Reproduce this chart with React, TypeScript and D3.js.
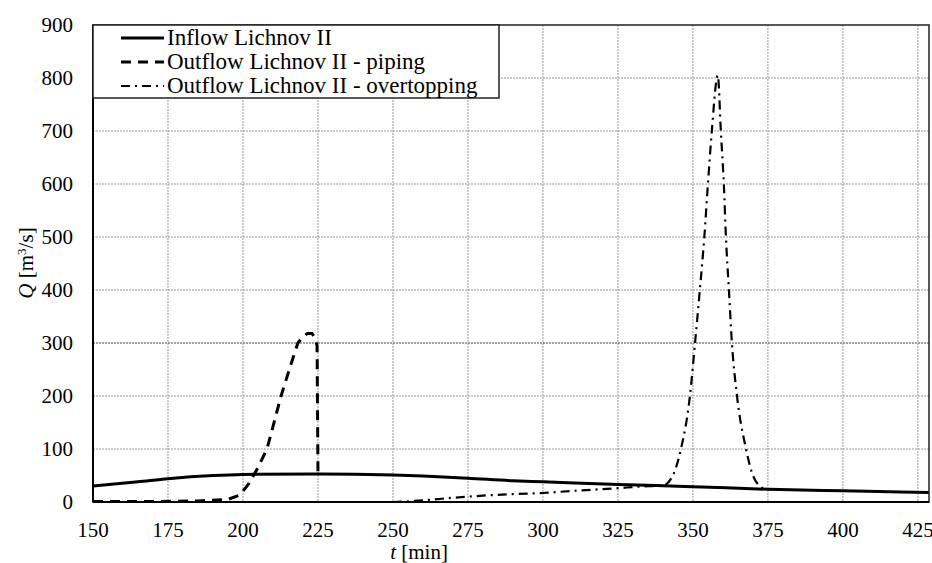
import { useEffect, useRef } from 'react';
import * as d3 from 'd3';

// inflow hydrograph
const inflowT = [150, 165, 175, 190, 200, 225, 250, 260, 275, 290, 300, 325, 350, 375, 400, 428.7];
const inflowQ = [30, 38, 44, 50, 52, 53, 51, 49, 45, 40, 38, 33, 29, 24, 21, 18];

// outflow - piping breach
const pipingT = [150, 170, 185, 195, 199, 202, 205, 208, 212.7, 216, 218.3, 220, 221.5, 223, 224, 224.7, 225];
const pipingQ = [1, 1, 2, 5, 13, 35, 65, 100, 200, 260, 300, 312, 318, 318, 310, 295, 55];

// outflow - overtopping breach
const overT = [250, 257, 262, 270, 280, 290, 300, 310, 325, 332, 340, 343.3, 346, 349, 350.7, 352.3, 353.8, 355, 356.3, 358.3, 359.3, 360.3, 361, 362, 363, 364.7, 367.7, 370, 373.5];
const overQ = [0, 2, 4, 8, 12, 15, 17, 21, 26, 29, 31, 50, 100, 200, 300, 400, 500, 600, 700, 805, 700, 600, 500, 400, 300, 200, 100, 50, 25];

const xTicks = [150, 175, 200, 225, 250, 275, 300, 325, 350, 375, 400, 425];
const yTicks = [0, 100, 200, 300, 400, 500, 600, 700, 800, 900];
const legendLabels = ['Inflow Lichnov II', 'Outflow Lichnov II - piping', 'Outflow Lichnov II - overtopping'];

const App = () => {
  const svgRef = useRef<SVGSVGElement>(null);

  useEffect(() => {
    const W = 932, H = 563;
    const left = 93, right = 929, top = 25, bottom = 502;
    const font = 'Liberation Serif, Times New Roman, Times, DejaVu Serif, serif';

    const svg = d3.select(svgRef.current).attr('width', W).attr('height', H)
      .attr('font-family', font);
    svg.selectAll('*').remove();

    const x = d3.scaleLinear().domain([150, 428.7]).range([left, right]);
    const y = d3.scaleLinear().domain([0, 900]).range([bottom, top]);

    // grid
    const grid = svg.append('g');
    grid.selectAll('.gx')
      .data(xTicks.slice(1))
      .enter().append('line')
      .attr('x1', d => x(d)).attr('x2', d => x(d))
      .attr('y1', top).attr('y2', bottom)
      .attr('stroke', '#999').attr('stroke-width', 1).attr('stroke-dasharray', '2,1');
    grid.selectAll('.gy')
      .data(yTicks.slice(1, -1))
      .enter().append('line')
      .attr('x1', left).attr('x2', right)
      .attr('y1', d => y(d)).attr('y2', d => y(d))
      .attr('stroke', d => (d === 300 ? '#444' : '#999'))
      .attr('stroke-width', 1).attr('stroke-dasharray', '2,1');

    // tick labels
    svg.append('g').selectAll('text')
      .data(xTicks)
      .enter().append('text')
      .attr('x', d => x(d)).attr('y', 537)
      .attr('text-anchor', 'middle')
      .attr('font-size', 21)
      .text(d => d);
    svg.append('g').selectAll('text')
      .data(yTicks)
      .enter().append('text')
      .attr('x', 73).attr('y', d => y(d) + 7)
      .attr('text-anchor', 'end')
      .attr('font-size', 21)
      .text(d => d);

    // axis titles
    const xt = svg.append('text')
      .attr('x', 419).attr('y', 559)
      .attr('text-anchor', 'middle')
      .attr('font-size', 21);
    xt.append('tspan').attr('font-style', 'italic').text('t');
    xt.append('tspan').text(' [min]');

    const yt = svg.append('text')
      .attr('transform', 'translate(33,263) rotate(-90)')
      .attr('text-anchor', 'middle')
      .attr('font-size', 21);
    yt.append('tspan').attr('font-style', 'italic').text('Q');
    yt.append('tspan').text(' [m');
    yt.append('tspan').attr('dy', -7).attr('font-size', 13).text('3');
    yt.append('tspan').attr('dy', 7).text('/s]');

    // series
    const clip = svg.append('clipPath').attr('id', 'plotclip');
    clip.append('rect').attr('x', left).attr('y', top).attr('width', right - left).attr('height', bottom - top);
    const plot = svg.append('g').attr('clip-path', 'url(#plotclip)');

    const mk = (ts: number[], qs: number[]) => ts.map((t, i) => [t, qs[i]] as [number, number]);
    const lineSmooth = d3.line<[number, number]>().x(d => x(d[0])).y(d => y(d[1])).curve(d3.curveMonotoneX);
    const lineLin = d3.line<[number, number]>().x(d => x(d[0])).y(d => y(d[1]));

    plot.append('path')
      .attr('d', lineSmooth(mk(overT, overQ)))
      .attr('fill', 'none').attr('stroke', '#000').attr('stroke-width', 2.2)
      .attr('stroke-dasharray', '9,5,2,5');
    plot.append('path')
      .attr('d', lineLin(mk(pipingT, pipingQ)))
      .attr('fill', 'none').attr('stroke', '#000').attr('stroke-width', 3)
      .attr('stroke-dasharray', '10,7');
    plot.append('path')
      .attr('d', lineSmooth(mk(inflowT, inflowQ)))
      .attr('fill', 'none').attr('stroke', '#000').attr('stroke-width', 3);

    // frame
    svg.append('rect')
      .attr('x', left).attr('y', top).attr('width', right - left).attr('height', bottom - top)
      .attr('fill', 'none').attr('stroke', '#222').attr('stroke-width', 1.5);
    svg.append('line').attr('x1', left).attr('x2', left).attr('y1', top).attr('y2', bottom)
      .attr('stroke', '#000').attr('stroke-width', 2);
    svg.append('line').attr('x1', left).attr('x2', right).attr('y1', bottom).attr('y2', bottom)
      .attr('stroke', '#000').attr('stroke-width', 2);

    // legend
    const lg = svg.append('g');
    lg.append('rect')
      .attr('x', left).attr('y', top).attr('width', 499 - left).attr('height', 98 - top)
      .attr('fill', '#fff').attr('stroke', '#222').attr('stroke-width', 1.5);
    const dashes = [null, '10,7', '9,5,2,5'];
    const widths = [3, 3, 2.2];
    legendLabels.forEach((lab, i) => {
      const ly = 38 + i * 24;
      lg.append('line')
        .attr('x1', 121).attr('x2', 164).attr('y1', ly).attr('y2', ly)
        .attr('stroke', '#000').attr('stroke-width', widths[i])
        .attr('stroke-dasharray', dashes[i]);
      lg.append('text')
        .attr('x', 167).attr('y', ly + 7)
        .attr('font-size', 23)
        .text(lab);
    });
  }, []);

  return (
    <div style={{ position: 'absolute', left: 0, top: 0 }}>
      <svg ref={svgRef} style={{ display: 'block', background: '#fff' }}></svg>
    </div>
  );
};

export default App;
